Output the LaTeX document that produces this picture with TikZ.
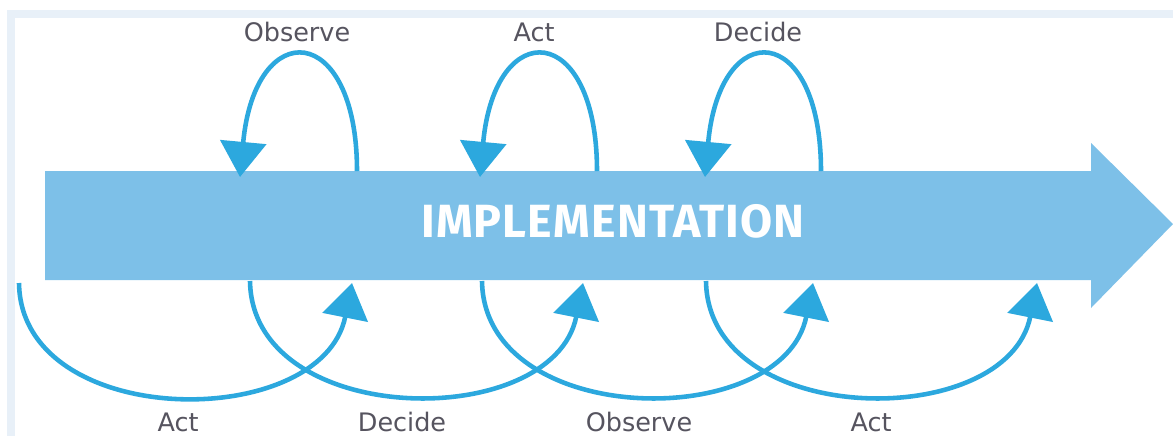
\documentclass[tikz,border=0pt]{standalone}
\usepackage{fontspec}
\setmainfont{DejaVu Sans}
\newfontfamily\titlefont[LetterSpace=2.5]{Fira Sans}
\usetikzlibrary{arrows.meta}
\definecolor{barblue}{HTML}{7DC0E8}
\definecolor{loopblue}{HTML}{2CA8DE}
\definecolor{labelgray}{HTML}{56545F}
\definecolor{framegray}{HTML}{E8F0F8}

\begin{document}
\begin{tikzpicture}[x=0.2mm, y=-0.2mm,
  cyc/.style = {draw=loopblue, line width=2.6pt, -{Triangle[width=26pt,length=20pt]}},
  lbl/.style = {text=labelgray, font=\fontsize{14.5}{17}\selectfont, anchor=base}]
\useasboundingbox (0,0) rectangle (1173,436);
\fill[framegray] (7,10) rectangle (1173,436);
\fill[white] (15,18) rectangle (1173,436);
\fill[barblue] (45,171) -- (1091,171) -- (1091,143) -- (1173,224) -- (1091,308) -- (1091,280) -- (45,280) -- cycle;
\node[text=white, font=\titlefont\bfseries\fontsize{26.5}{30}\selectfont, anchor=base] (impl) at (613,237) {IMPLEMENTATION};
% loops above the bar
\coordinate (ta) at (357,171); \coordinate (tb) at (240,177);
\coordinate (tc) at (597,171); \coordinate (td) at (480,177);
\coordinate (te) at (821,171); \coordinate (tf) at (705,177);
\draw[cyc] (ta) .. controls +(0,-150) and +(15,-162) .. (tb);
\draw[cyc] (tc) .. controls +(0,-150) and +(15,-162) .. (td);
\draw[cyc] (te) .. controls +(0,-150) and +(15,-162) .. (tf);
% loops below the bar
\coordinate (ba) at (19,283);  \coordinate (bb) at (352,283);
\coordinate (bc) at (250,281); \coordinate (bd) at (583,283);
\coordinate (be) at (482,281); \coordinate (bf) at (813,283);
\coordinate (bg) at (706,281); \coordinate (bh) at (1037,283);
\draw[cyc] (ba) .. controls +(2,148) and +(-30,150) .. (bb);
\draw[cyc] (bc) .. controls +(2,148) and +(-30,150) .. (bd);
\draw[cyc] (be) .. controls +(2,148) and +(-30,150) .. (bf);
\draw[cyc] (bg) .. controls +(2,148) and +(-30,150) .. (bh);
\node[lbl] (o1) at (297,41) {Observe};
\node[lbl] (a1) at (534,41) {Act};
\node[lbl] (d1) at (758,41) {Decide};
\node[lbl] (a2) at (178,431) {Act};
\node[lbl] (d2) at (402,431) {Decide};
\node[lbl] (o2) at (639,431) {Observe};
\node[lbl] (a3) at (871,431) {Act};
\end{tikzpicture}
\end{document}
